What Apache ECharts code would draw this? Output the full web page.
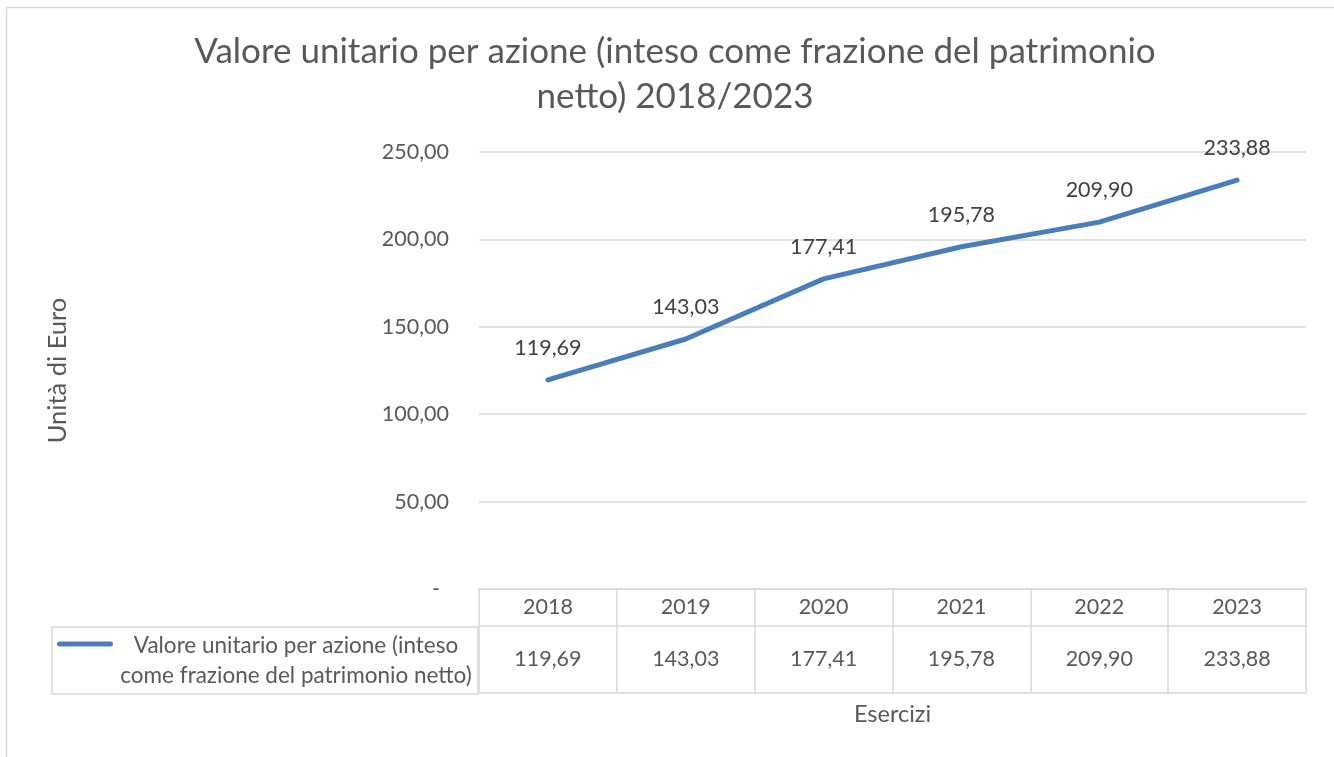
<!DOCTYPE html>
<html>
<head>
<meta charset="utf-8">
<script src="https://cdn.jsdelivr.net/npm/echarts@6/dist/echarts.min.js"></script>
<style>html,body{margin:0;padding:0;background:#fff}#c{width:1334px;height:757px}</style>
</head>
<body>
<div id="c"></div>
<script>
const titleText = 'Valore unitario per azione (inteso come frazione del patrimonio\nnetto) 2018/2023';
const seriesName = 'Valore unitario per azione (inteso come frazione del patrimonio netto)';
const legendLines = ['Valore unitario per azione (inteso', 'come frazione del patrimonio netto)'];
const years = ['2018', '2019', '2020', '2021', '2022', '2023'];
const values = [119.69, 143.03, 177.41, 195.78, 209.90, 233.88];
const yTicks = [0, 50, 100, 150, 200, 250];
const yAxisName = 'Unità di Euro';
const xAxisName = 'Esercizi';

const FONT = 'Lato';
const GRID = '#d9d9d9';
const TXT = '#595959';
const fmt = v => v.toFixed(2).replace('.', ',');

const chart = echarts.init(document.getElementById('c'), null, {renderer: 'canvas'});
const tableAxisBase = {
  type: 'category', data: years, position: 'bottom', boundaryGap: true,
  axisLine: {show: true, lineStyle: {color: GRID, width: 1.5}},
  axisTick: {show: false}, axisLabel: {show: false}, splitLine: {show: false}
};
chart.setOption({
  animation: false,
  backgroundColor: '#fff',
  textStyle: {fontFamily: FONT},
  title: {
    text: titleText, left: 670, top: 24, textAlign: 'center',
    textStyle: {fontFamily: FONT, fontSize: 35, fontWeight: 'normal', color: TXT, lineHeight: 45}
  },
  graphic: [{
    type: 'rect', silent: true, z: -10,
    shape: {x: 6.5, y: 7.5, width: 1400, height: 800},
    style: {fill: 'none', stroke: GRID, lineWidth: 1.5}
  }],
  grid: {left: 479, right: 28, top: 152, bottom: 168, containLabel: false},
  legend: {
    show: true, selectedMode: false, left: 52, top: 627,
    orient: 'vertical',
    padding: [3.5, 4, 3.5, 5],
    borderColor: GRID, borderWidth: 1.5,
    itemWidth: 56, itemHeight: 60,
    data: [{
      name: seriesName,
      icon: 'path://M0,0L0.01,0L0.01,0.01Z M2.5,11 L53.5,11 A2.5,2.5 0 0 1 53.5,16 L2.5,16 A2.5,2.5 0 0 1 2.5,11 Z M55.99,60L56,60L56,59.99Z'
    }],
    itemStyle: {color: '#4A7EBB'},
    formatter: () => legendLines.map(l => '{a|' + l + '}').join('\n'),
    textStyle: {
      fontFamily: FONT, fontSize: 22.5, color: TXT,
      rich: {a: {fontFamily: FONT, fontSize: 22.5, color: TXT, width: 356, align: 'center', lineHeight: 30}}
    }
  },
  xAxis: [
    {
      type: 'category', data: years, position: 'bottom', boundaryGap: true,
      name: xAxisName, nameLocation: 'middle', nameGap: 113,
      nameTextStyle: {fontFamily: FONT, fontSize: 23.5, color: TXT},
      axisLine: {show: true, lineStyle: {color: GRID, width: 1.5}},
      axisTick: {show: true, interval: 0, length: 104, lineStyle: {color: GRID, width: 1.5}},
      axisLabel: {
        show: true, interval: 0, margin: 0,
        formatter: (val, idx) => '{y|' + val + '}\n{v|' + fmt(values[idx]) + '}',
        rich: {
          y: {fontFamily: FONT, fontSize: 21.5, color: TXT, lineHeight: 37, height: 37},
          v: {fontFamily: FONT, fontSize: 21.5, color: TXT, lineHeight: 67, height: 67}
        }
      },
      splitLine: {show: false}
    },
    Object.assign({}, tableAxisBase, {offset: 37}),
    Object.assign({}, tableAxisBase, {offset: 104})
  ],
  yAxis: {
    type: 'value', min: yTicks[0], max: yTicks[yTicks.length - 1], interval: yTicks[1] - yTicks[0],
    name: yAxisName, nameLocation: 'middle', nameGap: 408, nameRotate: 90,
    nameTextStyle: {fontFamily: FONT, fontSize: 25.5, color: TXT},
    axisLine: {show: false}, axisTick: {show: false},
    axisLabel: {
      margin: 30, fontFamily: FONT, fontSize: 21.5, color: TXT,
      formatter: v => v === 0 ? '{z|-}' : fmt(v),
      rich: {z: {fontFamily: FONT, fontSize: 21.5, color: TXT, padding: [0, 9, 0, 0]}}
    },
    splitLine: {show: true, lineStyle: {color: GRID, width: 1.5}}
  },
  series: [{
    name: seriesName, type: 'line', xAxisIndex: 0, yAxisIndex: 0,
    data: values, smooth: false, symbol: 'circle', symbolSize: 0.01, showSymbol: true,
    lineStyle: {color: '#4A7EBB', width: 5, cap: 'round', join: 'round'},
    itemStyle: {color: '#4A7EBB'},
    label: {
      show: true, position: 'top', distance: 21, formatter: p => fmt(p.value),
      fontFamily: FONT, fontSize: 21.5, color: '#404040'
    },
    emphasis: {disabled: true}
  }]
});
</script>
</body>
</html>
